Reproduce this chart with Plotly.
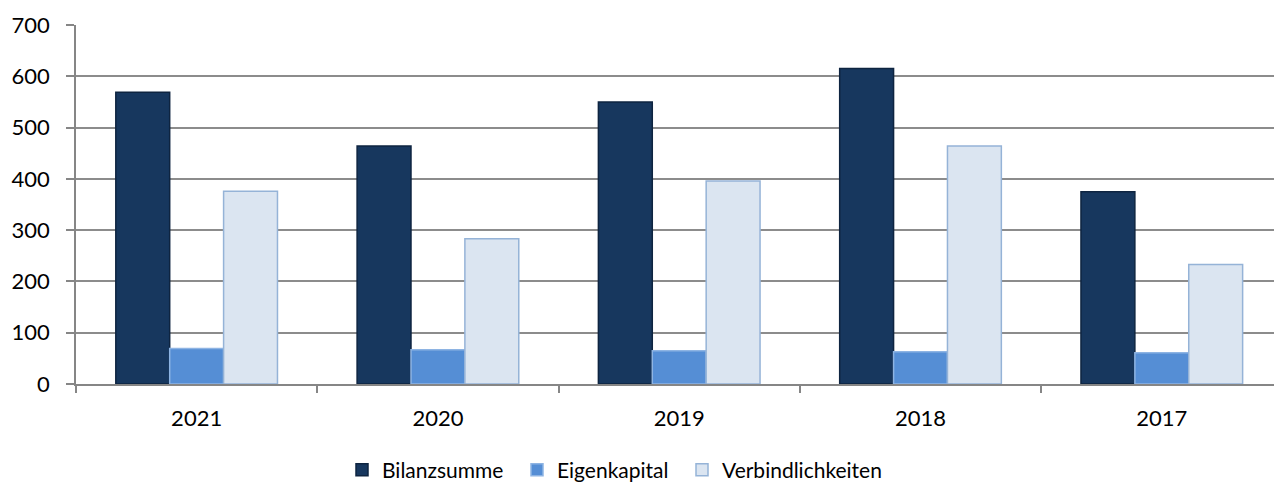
import plotly.graph_objects as go

years = ["2021", "2020", "2019", "2018", "2017"]
bilanzsumme = [569, 464, 550, 615, 375]
eigenkapital = [69, 67, 65, 63, 61]
verbindlichkeiten = [376, 283, 396, 464, 233]

series = [
    ("Bilanzsumme", bilanzsumme, "#17375E", "#0E2440", "legend", 342),
    ("Eigenkapital", eigenkapital, "#558ED5", "#8EB4E3", "legend2", 517),
    ("Verbindlichkeiten", verbindlichkeiten, "#DBE5F1", "#95B3D7", "legend3", 682),
]

FONT = "Lato, Carlito, Calibri, sans-serif"
fig = go.Figure()
legend_layouts = {}
for name, vals, fill, line, leg, lx in series:
    fig.add_trace(go.Bar(
        x=years, y=vals, name=name, legend=leg, showlegend=True,
        marker=dict(color=fill, line=dict(color=line, width=1.5)),
    ))
    legend_layouts[leg] = dict(
        orientation="h", xref="container", yref="container",
        x=lx / 1274, xanchor="left", y=(487 - 470) / 487, yanchor="middle",
        font=dict(family=FONT, size=21, color="#000000"), itemwidth=30,
        bgcolor="rgba(0,0,0,0)",
    )

fig.update_layout(
    width=1274, height=487,
    margin=dict(l=76, r=0, t=25, b=103),
    paper_bgcolor="white", plot_bgcolor="white",
    barmode="group", bargap=0.33, bargroupgap=0,
    font=dict(family=FONT, size=22, color="#000000"),
    showlegend=True,
    xaxis=dict(
        type="category", range=[-0.5, 4.465],
        showline=True, linecolor="#868686", linewidth=1.5,
        ticks="outside", tickson="boundaries", ticklen=7, tickcolor="#868686", tickwidth=1.5,
        showgrid=False, ticklabelstandoff=14,
    ),
    yaxis=dict(
        range=[0, 700], dtick=100, tick0=0,
        showline=True, linecolor="#868686", linewidth=1.5,
        ticks="outside", ticklen=8, tickcolor="#868686", tickwidth=1.5,
        showgrid=True, gridcolor="#8c8c8c", gridwidth=1.5,
        zeroline=False, ticklabelstandoff=12,
    ),
    **legend_layouts,
)

fig.write_html("out.html", config={"displayModeBar": False},
               post_script="document.body.style.margin='0';document.body.style.overflow='hidden';")
